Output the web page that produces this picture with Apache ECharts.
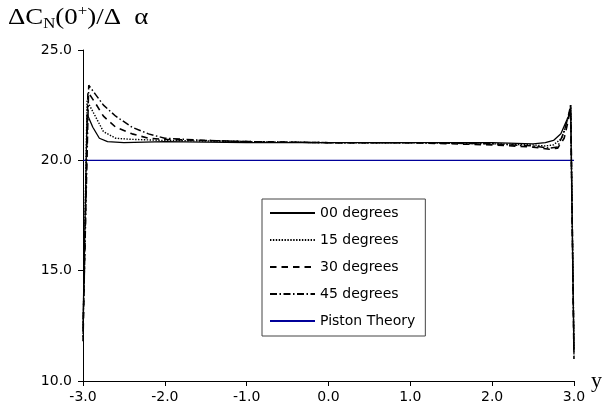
<!DOCTYPE html>
<html>
<head>
<meta charset="utf-8">
<script src="https://cdn.jsdelivr.net/npm/echarts@6/dist/echarts.min.js"></script>
<style>
html,body{margin:0;padding:0;background:#fff;}
#chart{width:605px;height:415px;}
</style>
</head>
<body>
<div id="chart"></div>
<script>
// ---- data ----
var seriesNames = ['00 degrees', '15 degrees', '30 degrees', '45 degrees', 'Piston Theory'];
var xTicks = [-3.0, -2.0, -1.0, 0.0, 1.0, 2.0, 3.0];
var yTicks = [10.0, 15.0, 20.0, 25.0];

var x00 = [-3.0, -2.95, -2.88, -2.8, -2.7, -2.5, -2.0, -1.0, 0.0, 1.0, 2.0, 2.5, 2.65, 2.75, 2.84, 2.91, 2.96, 3.0];
var y00 = [12.5, 22.1, 21.5, 21.0, 20.85, 20.8, 20.85, 20.8, 20.8, 20.8, 20.8, 20.75, 20.8, 20.9, 21.2, 21.8, 22.2, 11.2];

var x15 = [-3.0, -2.95, -2.85, -2.75, -2.6, -2.4, -2.0, -1.0, 0.0, 1.0, 2.0, 2.5, 2.65, 2.75, 2.85, 2.92, 2.96, 3.0];
var y15 = [12.0, 22.7, 22.0, 21.3, 21.0, 20.95, 20.9, 20.85, 20.8, 20.8, 20.75, 20.7, 20.65, 20.7, 21.0, 21.8, 22.4, 11.5];

var x30 = [-3.0, -2.94, -2.85, -2.75, -2.6, -2.4, -2.2, -2.0, -1.0, 0.0, 1.0, 2.0, 2.5, 2.7, 2.8, 2.88, 2.93, 2.96, 3.0];
var y30 = [11.8, 23.1, 22.6, 22.0, 21.5, 21.2, 21.0, 20.95, 20.85, 20.8, 20.8, 20.7, 20.6, 20.5, 20.55, 21.0, 21.8, 22.5, 11.0];

var x45 = [-3.0, -2.93, -2.85, -2.75, -2.6, -2.4, -2.2, -2.0, -1.5, -1.0, 0.0, 1.0, 2.0, 2.5, 2.7, 2.8, 2.88, 2.93, 2.96, 3.0];
var y45 = [12.2, 23.4, 23.0, 22.5, 22.0, 21.5, 21.2, 21.0, 20.9, 20.85, 20.8, 20.8, 20.75, 20.65, 20.55, 20.6, 21.3, 22.0, 22.5, 11.3];

var xPiston = [-3.0, 3.0];
var yPiston = [20.0, 20.0];

function pairs(xs, ys) { return xs.map(function (x, i) { return [x, ys[i]]; }); }

var chart = echarts.init(document.getElementById('chart'), null, { renderer: 'canvas' });
var sansFont = 'DejaVu Sans';
var serif = 'Liberation Serif';
var lineStyles = [
  { color: '#000', width: 1.3, type: 'solid' },
  { color: '#000', width: 1.4, type: [1.4, 1.5] },
  { color: '#000', width: 1.6, type: [6.5, 5] },
  { color: '#000', width: 1.5, type: [7, 2.5, 1.5, 2.5] },
  { color: '#000099', width: 1.2, type: 'solid' }
];
var dataSets = [pairs(x00, y00), pairs(x15, y15), pairs(x30, y30), pairs(x45, y45), pairs(xPiston, yPiston)];

// ---- title pieces (ΔC_N(0^+)/Δ α) ----
var mctx = document.createElement('canvas').getContext('2d');
function tw(t, size) { mctx.font = size + 'px "' + serif + '"'; return mctx.measureText(t).width; }
var titleParts = [
  { t: 'ΔC', size: 24, y: 18 },
  { t: 'N', size: 15, y: 24 },
  { t: '(0', size: 24, y: 18 },
  { t: '+', size: 15, y: 11 },
  { t: ')/Δ  α', size: 24, y: 18 }
];
var titleChildren = [];
var cx = 0;
titleParts.forEach(function (p) {
  titleChildren.push({ type: 'text', x: cx, y: p.y,
    style: { text: p.t, fontFamily: serif, fontSize: p.size, fill: '#000', verticalAlign: 'middle', textAlign: 'left' } });
  cx += tw(p.t, p.size);
});

chart.setOption({
  animation: false,
  backgroundColor: '#fff',
  grid: { left: 83, right: 17, top: 50, bottom: 34 },
  graphic: [{
    type: 'group', x: 8, y: 0, scaleX: 1.12, scaleY: 1,
    children: titleChildren
  }],
  legend: {
    orient: 'vertical', left: 262, top: 199,
    data: seriesNames,
    itemWidth: 45, itemHeight: 14, itemGap: 13,
    padding: [7, 10, 8, 7],
    borderColor: '#444', borderWidth: 1,
    backgroundColor: '#fff',
    itemStyle: { opacity: 0 },
    textStyle: { fontFamily: sansFont, fontSize: 14, color: '#000' }
  },
  xAxis: {
    type: 'value', min: -3, max: 3, interval: 1,
    name: 'y', nameLocation: 'end', nameGap: 2,
    nameTextStyle: { fontFamily: serif, fontSize: 22, color: '#000', verticalAlign: 'middle', padding: [0, 0, 10, 0] },
    axisLine: { onZero: false, lineStyle: { color: '#000', width: 1 } },
    axisTick: { show: true, length: 5, lineStyle: { color: '#000' } },
    axisLabel: { fontFamily: sansFont, fontSize: 14, color: '#000', margin: 9,
      formatter: function (v) { return v.toFixed(1); } },
    splitLine: { show: false }
  },
  yAxis: {
    type: 'value', min: 10, max: 25, interval: 5,
    axisLine: { show: true, onZero: false, lineStyle: { color: '#000', width: 1 } },
    axisTick: { show: true, length: 5, lineStyle: { color: '#000' } },
    axisLabel: { fontFamily: sansFont, fontSize: 14, color: '#000', margin: 11,
      formatter: function (v) { return v.toFixed(1); } },
    splitLine: { show: false }
  },
  series: seriesNames.map(function (n, i) {
    return {
      name: n, type: 'line', data: dataSets[i], symbol: 'none', smooth: false,
      clip: false,
      lineStyle: lineStyles[i], itemStyle: { color: lineStyles[i].color },
      z: i === 4 ? 1 : 3 + i
    };
  })
});
</script>
</body>
</html>
